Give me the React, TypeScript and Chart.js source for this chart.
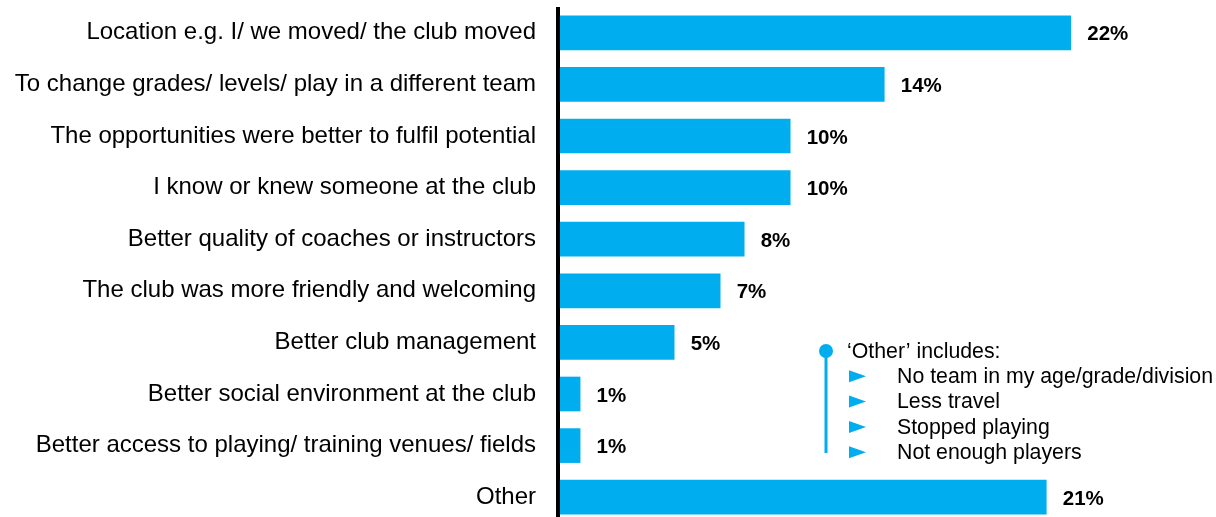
import React, { useEffect, useRef } from "react";
import { Chart, registerables } from "chart.js";

Chart.register(...registerables);

const categories = [
  "Location e.g. I/ we moved/ the club moved",
  "To change grades/ levels/ play in a different team",
  "The opportunities were better to fulfil potential",
  "I know or knew someone at the club",
  "Better quality of coaches or instructors",
  "The club was more friendly and welcoming",
  "Better club management",
  "Better social environment at the club",
  "Better access to playing/ training venues/ fields",
  "Other",
];
const values = [22.1, 14.03, 9.96, 9.96, 7.97, 6.93, 4.94, 0.87, 0.87, 21.04];
const valueLabels = ["22%", "14%", "10%", "10%", "8%", "7%", "5%", "1%", "1%", "21%"];
const noteTitle = "\u2018Other\u2019 includes:";
const noteItems = [
  "No team in my age/grade/division",
  "Less travel",
  "Stopped playing",
  "Not enough players",
];

const BLUE = "#00AEEF";
const FONT = "'Liberation Sans', Arial, sans-serif";

export default function App() {
  const ref = useRef<HTMLCanvasElement | null>(null);

  useEffect(() => {
    if (!ref.current) return;
    const overlay = {
      id: "overlay",
      afterDatasetsDraw(chart: any) {
        const { ctx, chartArea } = chart;
        ctx.save();
        // axis line
        ctx.fillStyle = "#000";
        ctx.fillRect(chartArea.left - 4, chartArea.top, 4, chartArea.bottom - chartArea.top);
        // value labels
        const meta = chart.getDatasetMeta(0);
        ctx.font = `bold 20.5px ${FONT}`;
        ctx.textBaseline = "middle";
        ctx.textAlign = "left";
        ctx.fillStyle = "#000";
        meta.data.forEach((bar: any, i: number) => {
          ctx.fillText(valueLabels[i], bar.x + 16.5, bar.y + 2);
        });
        // note
        const cx = 826;
        const cy = 351;
        ctx.fillStyle = BLUE;
        ctx.fillRect(cx - 1.5, cy, 3, 102);
        ctx.beginPath();
        ctx.arc(cx, cy, 7, 0, Math.PI * 2);
        ctx.fill();
        ctx.fillStyle = "#000";
        ctx.font = `21.3px ${FONT}`;
        ctx.fillText(noteTitle, 847, cy + 1);
        noteItems.forEach((t, i) => {
          const y = cy + 25.3 * (i + 1);
          ctx.fillStyle = BLUE;
          ctx.beginPath();
          ctx.moveTo(849, y - 6);
          ctx.lineTo(866, y);
          ctx.lineTo(849, y + 6);
          ctx.closePath();
          ctx.fill();
          ctx.fillStyle = "#000";
          ctx.fillText(t, 897, y + 1);
        });
        ctx.restore();
      },
    };
    const chart = new Chart(ref.current, {
      type: "bar",
      data: {
        labels: categories,
        datasets: [
          {
            data: values,
            backgroundColor: BLUE,
            barThickness: 34,
            borderWidth: 0,
          },
        ],
      },
      options: {
        indexAxis: "y",
        animation: false,
        responsive: true,
        maintainAspectRatio: false,
        layout: { padding: { top: 7, right: 32, bottom: 0, left: 0 } },
        plugins: { legend: { display: false }, tooltip: { enabled: false } },
        scales: {
          x: { display: false, min: 0, max: 27 },
          y: {
            afterFit(scale: any) {
              scale.width = 560;
              scale.paddingTop = 0;
              scale.paddingBottom = 0;
            },
            grid: { display: false, drawTicks: false },
            border: { display: false },
            ticks: {
              color: "#000",
              padding: 24,
              font: { family: FONT, size: 24 },
            },
          },
        },
      },
      plugins: [overlay],
    });
    return () => chart.destroy();
  }, []);

  return (
    <div
      style={{
        position: "fixed",
        left: 0,
        top: 0,
        width: 1216,
        height: 517,
        overflow: "hidden",
        background: "#fff",
      }}
    >
      <div style={{ position: "relative", width: 1216, height: 523 }}>
        <canvas ref={ref} />
      </div>
    </div>
  );
}
